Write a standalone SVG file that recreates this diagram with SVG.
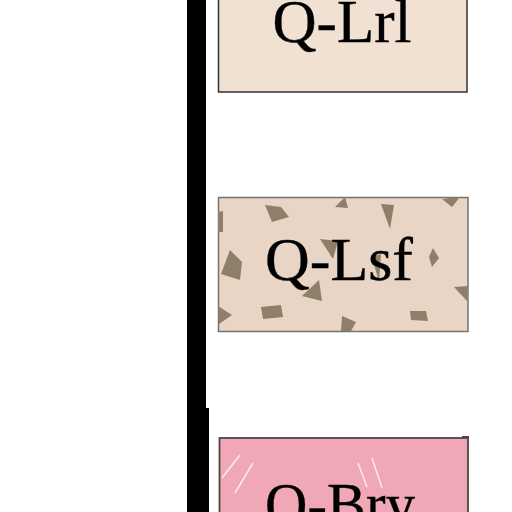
<svg xmlns="http://www.w3.org/2000/svg" width="512" height="512" viewBox="0 0 512 512">
<style>
.lbl{font-family:"Liberation Serif","Times New Roman",serif;font-size:61px;fill:#000;stroke:#000;stroke-width:0.4;text-anchor:middle}
.frag{fill:#8e7f6a}
.glint{stroke:#fff4f6;stroke-width:1.6;opacity:0.85}
</style>
<rect width="512" height="512" fill="#fff"/>
<g id="bar">
<rect x="187" y="0" width="19" height="409" fill="#000"/>
<rect x="187" y="408" width="22" height="104" fill="#000"/>
</g>
<g id="connectors"></g>
<g id="node-qlrl">
<rect x="218.5" y="-5" width="248.5" height="97" fill="#f0e1d3" stroke="#333" stroke-width="1.5"/>
<text class="lbl" x="342" y="42" textLength="139" lengthAdjust="spacingAndGlyphs">Q-Lrl</text>
</g>
<g id="node-qlsf">
<rect x="218.5" y="197.5" width="249.5" height="134" fill="#e8d5c6" stroke="#777270" stroke-width="1.5"/>
<polygon class="frag" points="265,205 281,207 289,217 272,222"/>
<polygon class="frag" points="335,207 345,197 348,208"/>
<polygon class="frag" points="381,204 394,205 390,229"/>
<polygon class="frag" points="442,199 460,197 452,207"/>
<polygon class="frag" points="218,212 223,211 223,232 218,232"/>
<polygon class="frag" points="230,250 242,262 240,280 221,274"/>
<polygon class="frag" points="320,239 338,241 333,259"/>
<polygon class="frag" points="433,248 439,258 432,267 429,257"/>
<polygon class="frag" points="319,280 322,301 302,296"/>
<polygon class="frag" points="454,287 468,286 467,301"/>
<polygon class="frag" points="218,306 232,315 219,324"/>
<polygon class="frag" points="261,307 281,305 283,317 263,319"/>
<polygon class="frag" points="342,316 356,322 351,331 341,331"/>
<polygon class="frag" points="410,311 426,311 428,321 411,320"/>
<polygon class="frag" points="372,257 381,254 379,282"/>
<text class="lbl" x="339" y="280" textLength="148" lengthAdjust="spacingAndGlyphs">Q-Lsf</text>
</g>
<g id="node-qbry">
<rect x="219.5" y="438" width="248.5" height="80" fill="#f0a8b6" stroke="#4e4446" stroke-width="1.8"/>
<line x1="462" y1="437" x2="469" y2="437" stroke="#4e4446" stroke-width="2"/>
<line class="glint" x1="222" y1="478" x2="240" y2="455"/>
<line class="glint" x1="235" y1="493" x2="253" y2="463"/>
<line class="glint" x1="358" y1="463" x2="367" y2="487"/>
<line class="glint" x1="372" y1="458" x2="382" y2="488"/>
<text class="lbl" x="340" y="525" textLength="150" lengthAdjust="spacingAndGlyphs">Q-Bry</text>
</g>
</svg>
